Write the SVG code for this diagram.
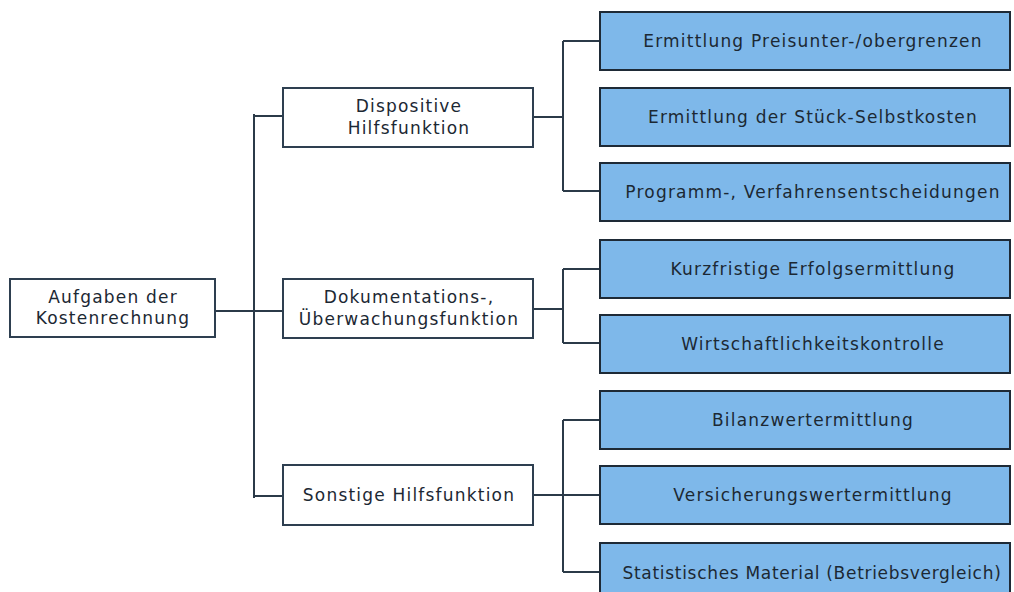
<svg xmlns="http://www.w3.org/2000/svg" width="1014" height="592" viewBox="0 0 1014 592">
<style>
.w{fill:#ffffff;stroke:#2e3f50;stroke-width:2}
.b{fill:#7eb8ea;stroke:#1e2a36;stroke-width:2}
text{font-family:"DejaVu Sans","Liberation Sans",sans-serif;font-size:17px;letter-spacing:1.2px;fill:#1c2833;text-anchor:middle}
.c{fill:none;stroke:#2b3a48;stroke-width:2}
</style>
<rect width="1014" height="592" fill="#ffffff"/>
<g id="connectors">
<path class="c" d="M215 311 H254 M254 114 V498 M254 116 H283 M254 311 H283 M254 496 H283"/>
<path class="c" d="M533 117 H563 M563 41 V191 M563 41 H600 M563 191 H600"/>
<path class="c" d="M533 309 H563 M563 269 V343 M563 269 H600 M563 343 H600"/>
<path class="c" d="M533 495 H563 M563 420 V572 M563 420 H600 M563 495 H600 M563 572 H600"/>
</g>
<g id="root"><rect class="w" x="10" y="279" width="205" height="58"/><text x="113" y="303">Aufgaben der</text><text x="113" y="324">Kostenrechnung</text></g>
<g id="dispositive"><rect class="w" x="283" y="88" width="250" height="59"/><text x="409" y="112">Dispositive</text><text x="409" y="134">Hilfsfunktion</text></g>
<g id="dokumentation"><rect class="w" x="283" y="279" width="250" height="59"/><text x="409" y="303">Dokumentations-,</text><text x="409" y="325">Überwachungsfunktion</text></g>
<g id="sonstige"><rect class="w" x="283" y="465" width="250" height="60"/><text x="409" y="501">Sonstige Hilfsfunktion</text></g>
<g id="preis"><rect class="b" x="600" y="12" width="410" height="58"/><text x="813" y="47">Ermittlung Preisunter-/obergrenzen</text></g>
<g id="stueck"><rect class="b" x="600" y="88" width="410" height="58"/><text x="813" y="123">Ermittlung der Stück-Selbstkosten</text></g>
<g id="programm"><rect class="b" x="600" y="163" width="410" height="58"/><text x="813" y="198">Programm-, Verfahrensentscheidungen</text></g>
<g id="kurz"><rect class="b" x="600" y="240" width="410" height="58"/><text x="813" y="275">Kurzfristige Erfolgsermittlung</text></g>
<g id="wirtschaft"><rect class="b" x="600" y="315" width="410" height="58"/><text x="813" y="350">Wirtschaftlichkeitskontrolle</text></g>
<g id="bilanz"><rect class="b" x="600" y="391" width="410" height="58"/><text x="813" y="426">Bilanzwertermittlung</text></g>
<g id="versicherung"><rect class="b" x="600" y="466" width="410" height="58"/><text x="813" y="501">Versicherungswertermittlung</text></g>
<g id="statistik"><rect class="b" x="600" y="543" width="410" height="58"/><text x="812" y="579" style="letter-spacing:0.7px">Statistisches Material (Betriebsvergleich)</text></g>
</svg>
